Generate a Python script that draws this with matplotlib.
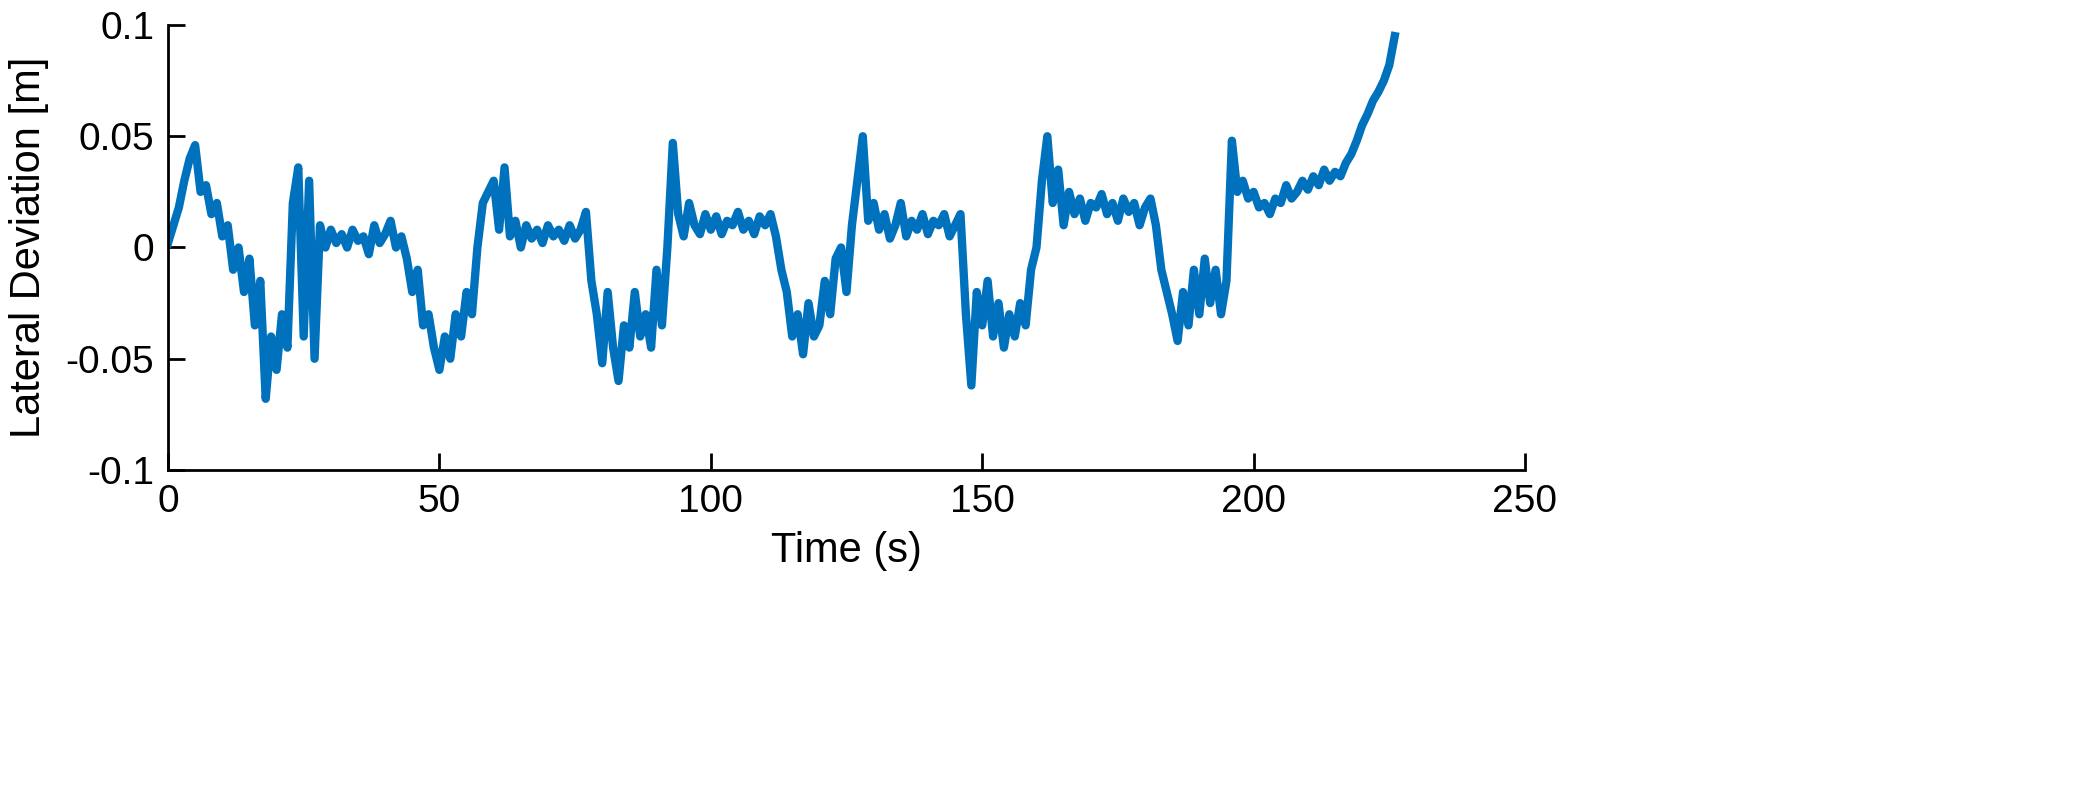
import numpy as np
import matplotlib.pyplot as plt

plt.rcParams['font.family'] = ['Liberation Sans', 'DejaVu Sans']

dev = [
    0.002, 0.010, 0.018, 0.030, 0.040, 0.046, 0.025, 0.028, 0.015, 0.020,
    0.005, 0.010, -0.010, 0.000, -0.020, -0.005, -0.035, -0.015, -0.068, -0.040,
    -0.055, -0.030, -0.045, 0.020, 0.036, -0.040, 0.030, -0.050, 0.010, 0.000,
    0.008, 0.002, 0.006, 0.000, 0.008, 0.003, 0.005, -0.003, 0.010, 0.002,
    0.006, 0.012, 0.000, 0.005, -0.005, -0.020, -0.010, -0.035, -0.030, -0.045,
    -0.055, -0.040, -0.050, -0.030, -0.040, -0.020, -0.030, 0.000, 0.020, 0.025,
    0.030, 0.008, 0.036, 0.005, 0.012, 0.000, 0.010, 0.004, 0.008, 0.002,
    0.010, 0.005, 0.008, 0.003, 0.010, 0.004, 0.008, 0.016, -0.015, -0.030,
    -0.052, -0.020, -0.045, -0.060, -0.035, -0.045, -0.020, -0.040, -0.030, -0.045,
    -0.010, -0.035, 0.000, 0.047, 0.015, 0.005, 0.020, 0.010, 0.006, 0.015,
    0.008, 0.014, 0.006, 0.012, 0.010, 0.016, 0.008, 0.012, 0.006, 0.014,
    0.010, 0.015, 0.005, -0.010, -0.020, -0.040, -0.030, -0.048, -0.025, -0.040,
    -0.035, -0.015, -0.030, -0.005, 0.000, -0.020, 0.010, 0.030, 0.050, 0.012,
    0.020, 0.008, 0.015, 0.004, 0.010, 0.020, 0.005, 0.012, 0.008, 0.015,
    0.006, 0.012, 0.010, 0.015, 0.005, 0.010, 0.015, -0.030, -0.062, -0.020,
    -0.035, -0.015, -0.040, -0.025, -0.045, -0.030, -0.040, -0.025, -0.035, -0.010,
    0.000, 0.030, 0.050, 0.020, 0.035, 0.010, 0.025, 0.015, 0.022, 0.012,
    0.020, 0.018, 0.024, 0.015, 0.020, 0.012, 0.022, 0.016, 0.020, 0.010,
    0.018, 0.022, 0.010, -0.010, -0.020, -0.030, -0.042, -0.020, -0.035, -0.010,
    -0.030, -0.005, -0.025, -0.010, -0.030, -0.015, 0.048, 0.025, 0.030, 0.022,
    0.025, 0.018, 0.020, 0.015, 0.022, 0.020, 0.028, 0.022, 0.025, 0.030,
    0.026, 0.032, 0.028, 0.035, 0.030, 0.034, 0.032, 0.038, 0.042, 0.048,
    0.055, 0.060, 0.066, 0.070, 0.075, 0.082, 0.095,
]
t = np.arange(len(dev))

fig = plt.figure(figsize=(20.81, 7.86), dpi=100)
ax = fig.add_axes([168/2081, 1-470/786, (1525-168)/2081, (470-25)/786])
ax.plot(t, dev, color='#0072BD', linewidth=6, solid_joinstyle='round')
ax.set_xlim(0, 250)
ax.set_ylim(-0.1, 0.1)
ax.set_xticks([0, 50, 100, 150, 200, 250])
ax.set_yticks([-0.1, -0.05, 0, 0.05, 0.1])
ax.set_yticklabels(['-0.1', '-0.05', '0', '0.05', '0.1'])
ax.spines['top'].set_visible(False)
ax.spines['right'].set_visible(False)
for s in ['left', 'bottom']:
    ax.spines[s].set_linewidth(2)
ax.tick_params(direction='in', length=12, width=2, labelsize=28, pad=10)
ax.set_xlabel('Time (s)', fontsize=30, labelpad=8)
ax.set_ylabel('Lateral Deviation [m]', fontsize=30, labelpad=12)

plt.savefig('out.png', dpi=100)
